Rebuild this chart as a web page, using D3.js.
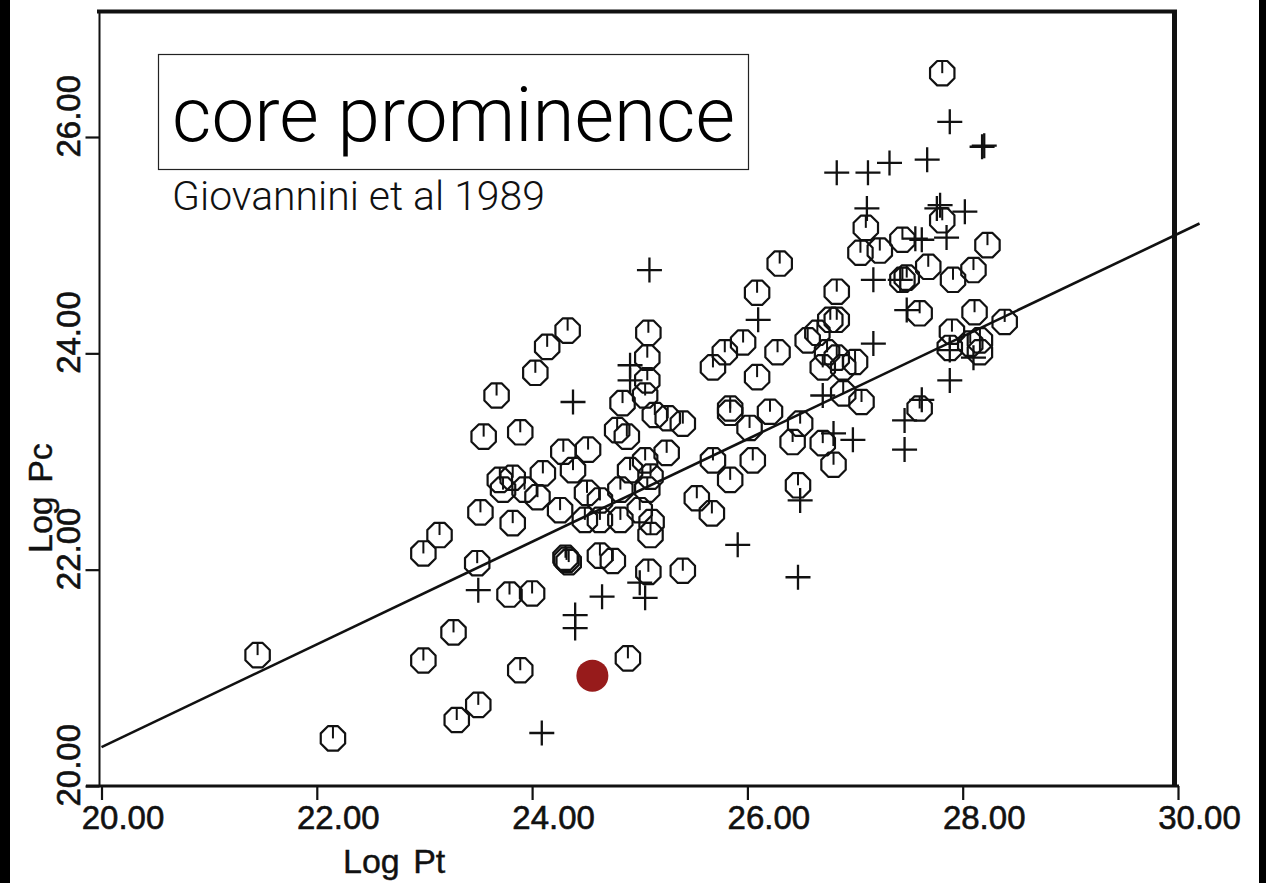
<!DOCTYPE html>
<html>
<head>
<meta charset="utf-8">
<script src="https://cdn.jsdelivr.net/npm/d3@7"></script>
<style>
  html, body { margin: 0; padding: 0; background: #fff; }
  svg { display: block; }
</style>
</head>
<body>
<svg id="chart" width="1266" height="883"></svg>
<script>
// Core power (Log Pc) against total power (Log Pt) for a radio galaxy sample.

// Sources drawn with the octagon "circle" symbol
const circlePt = [21.45, 22.15, 22.99, 23.27, 23.30, 23.50, 23.89, 24.89, 22.99, 23.14,
  23.49, 23.52, 23.79, 24.00, 24.32, 24.34, 24.31, 24.63, 24.75, 25.08,
  25.40, 25.10, 23.67, 24.03, 24.14, 24.33, 23.55, 23.89, 25.08, 25.07,
  25.07, 24.84, 25.05, 24.79, 24.88, 25.14, 25.26, 25.40, 25.25, 25.10,
  25.07, 24.29, 24.52, 23.70, 23.82, 23.73, 23.93, 24.10, 24.05, 23.82,
  24.38, 24.26, 24.51, 24.63, 24.49, 24.63, 24.82, 24.91, 25.05, 24.82,
  25.00, 25.11, 25.53, 25.67, 26.30, 26.09, 25.96, 25.79, 25.68, 26.28,
  26.09, 25.84, 25.84, 26.21, 26.02, 25.68, 26.05, 25.84, 26.47, 26.49,
  26.42, 26.70, 26.80, 26.83, 26.56, 26.65, 26.77, 26.83, 26.74, 26.83,
  26.70, 26.89, 27.00, 26.89, 27.06, 27.81, 27.10, 27.05, 27.23, 27.44,
  27.81, 28.23, 27.68, 27.91, 28.10, 27.44, 27.48, 27.60, 28.11, 28.39,
  27.90, 27.88, 28.07, 28.16, 28.16, 27.60];
const circlePc = [21.21, 20.44, 21.16, 21.42, 20.61, 20.75, 21.07, 21.18, 22.15, 22.32,
  22.06, 22.53, 21.77, 21.78, 22.09, 22.07, 22.11, 22.13, 22.08, 21.98,
  21.99, 22.32, 23.61, 23.82, 24.06, 24.21, 23.23, 23.27, 24.19, 23.96,
  23.75, 23.54, 23.61, 23.29, 23.23, 23.43, 23.40, 23.35, 23.08, 22.86,
  22.74, 23.09, 23.11, 22.83, 22.85, 22.74, 22.74, 22.89, 22.67, 22.43,
  22.92, 22.55, 22.71, 22.64, 22.46, 22.46, 22.74, 22.92, 23.01, 22.46,
  22.55, 22.44, 22.66, 22.52, 24.83, 24.56, 24.10, 24.01, 23.87, 24.01,
  23.78, 23.49, 23.45, 23.46, 23.31, 23.01, 23.01, 22.83, 22.78, 23.35,
  23.18, 23.17, 22.97, 24.57, 24.12, 24.19, 24.31, 24.31, 24.01, 23.96,
  23.87, 23.87, 23.92, 23.63, 23.55, 26.59, 25.16, 24.93, 24.95, 25.05,
  25.23, 25.00, 24.80, 24.68, 24.77, 24.68, 24.70, 24.37, 24.38, 24.29,
  24.20, 24.05, 24.09, 24.01, 24.12, 23.49];

// Sources drawn with the plus symbol
const plusPt = [23.50, 24.38, 25.09, 24.91, 24.91, 24.65, 24.40, 24.40, 25.00, 25.05,
  24.09, 25.91, 26.47, 26.49, 26.70, 26.10, 26.98, 26.80, 27.46, 27.46,
  27.88, 27.62, 27.88, 28.10, 27.17, 27.48, 27.42, 27.17, 27.62, 27.85,
  27.79, 28.02, 27.11, 26.83, 27.12, 27.32, 27.67, 27.88, 28.18, 28.20,
  27.56, 27.76];
const plusPc = [21.81, 23.55, 24.77, 23.89, 23.75, 21.75, 21.58, 21.46, 21.88, 21.74,
  20.49, 22.23, 21.93, 22.64, 23.61, 24.31, 23.20, 23.26, 23.38, 23.11,
  23.75, 23.57, 24.03, 23.96, 24.09, 24.40, 24.68, 24.68, 25.05, 25.07,
  25.37, 25.31, 25.34, 25.67, 25.67, 25.76, 25.79, 26.14, 25.91, 25.92,
  25.06, 25.34];

// Highlighted source
const highlightPt = [24.56];
const highlightPc = [21.02];

// Regression line end points
const fitPt = [20.0, 30.2];
const fitPc = [20.36, 25.20];

// Axis ticks
const xTicks = [20, 22, 24, 26, 28, 30];
const yTicks = [20, 22, 24, 26];

const titleText = "core prominence";
const subtitleText = "Giovannini et al 1989";
const xLabel = "Log Pt";
const yLabel = "Log Pc";

const svg = d3.select("#chart");
const ink = "#111";

// Dark bars at the page edges
svg.append("rect").attr("x", 0).attr("y", 0).attr("width", 10).attr("height", 883).attr("fill", "#000");
svg.append("rect").attr("x", 1259).attr("y", 0).attr("width", 7).attr("height", 883).attr("fill", "#000");

const x = d3.scaleLinear().domain([20, 30]).range([101.5, 1178]);
const y = d3.scaleLinear().domain([20, 26]).range([786, 137]);

// Frame: top and right borders
svg.append("line").attr("x1", 97).attr("x2", 1177).attr("y1", 11.5).attr("y2", 11.5)
  .attr("stroke", ink).attr("stroke-width", 4);
svg.append("line").attr("x1", 1174.5).attr("x2", 1174.5).attr("y1", 10).attr("y2", y(20))
  .attr("stroke", ink).attr("stroke-width", 5);

// Axis lines
svg.append("line").attr("x1", 99.5).attr("x2", 99.5).attr("y1", 10).attr("y2", y(20))
  .attr("stroke", ink).attr("stroke-width", 2);
svg.append("line").attr("x1", 86).attr("x2", x(30) + 1).attr("y1", y(20)).attr("y2", y(20))
  .attr("stroke", ink).attr("stroke-width", 3);

// X axis ticks and labels
const gx = svg.append("g").attr("transform", `translate(0,${y(20)})`)
  .call(d3.axisBottom(x).tickValues(xTicks).tickFormat(d3.format(".2f"))
    .tickSizeInner(14).tickSizeOuter(0));
gx.select(".domain").remove();
gx.selectAll(".tick line").attr("stroke", ink).attr("stroke-width", 2.2);
gx.selectAll(".tick text")
  .attr("x", 21).attr("y", 43).attr("dy", null)
  .attr("text-anchor", "middle")
  .attr("font-family", "'Liberation Sans', Arial, sans-serif")
  .attr("font-size", 33).attr("fill", ink)
  .attr("stroke", ink).attr("stroke-width", 0.6);

// Y axis ticks and labels
const gy = svg.append("g").attr("transform", "translate(99.5,0)")
  .call(d3.axisLeft(y).tickValues(yTicks).tickFormat(d3.format(".2f"))
    .tickSizeInner(14).tickSizeOuter(0));
gy.select(".domain").remove();
gy.selectAll(".tick line").attr("stroke", ink).attr("stroke-width", 2.2);
gy.selectAll(".tick text")
  .attr("x", null).attr("dy", null)
  .attr("text-anchor", "start")
  .attr("transform", "translate(-20,20) rotate(-90)")
  .attr("font-family", "'Liberation Sans', Arial, sans-serif")
  .attr("font-size", 33).attr("fill", ink)
  .attr("stroke", ink).attr("stroke-width", 0.6);

// Axis titles
svg.append("text").attr("x", 343).attr("y", 873)
  .attr("font-family", "'Liberation Sans', Arial, sans-serif").attr("font-size", 34)
  .attr("fill", ink).attr("stroke", ink).attr("stroke-width", 0.4)
  .attr("word-spacing", 4)
  .text(xLabel);
svg.append("text").attr("transform", "translate(52,553) rotate(-90)")
  .attr("font-family", "'Liberation Sans', Arial, sans-serif").attr("font-size", 34)
  .attr("fill", ink).attr("stroke", ink).attr("stroke-width", 0.4)
  .attr("word-spacing", 4)
  .text(yLabel);

// Regression line
svg.append("path")
  .datum(d3.zip(fitPt, fitPc))
  .attr("d", d3.line().x(d => x(d[0])).y(d => y(d[1])))
  .attr("fill", "none").attr("stroke", ink).attr("stroke-width", 2.6);

// Octagon outline with a short tick from its top edge to the centre
const R = 13.2;
const octagon = "M" + d3.range(8).map(i => {
  const a = Math.PI / 8 + i * Math.PI / 4;
  return [R * Math.cos(a), R * Math.sin(a)];
}).join("L") + "Z";
const flat = R * Math.cos(Math.PI / 8);

const circles = svg.append("g").attr("class", "circles");
const cg = circles.selectAll("g").data(d3.zip(circlePt, circlePc)).join("g")
  .attr("transform", d => `translate(${x(d[0])},${y(d[1])})`);
cg.append("path").attr("d", octagon).attr("fill", "none")
  .attr("stroke", ink).attr("stroke-width", 2.2).attr("stroke-linejoin", "round");
cg.append("line").attr("x1", 0).attr("x2", 0).attr("y1", -flat).attr("y2", 0)
  .attr("stroke", ink).attr("stroke-width", 2);

// Plus symbols
const P = 12.5;
svg.append("g").attr("class", "plus")
  .selectAll("path").data(d3.zip(plusPt, plusPc)).join("path")
  .attr("transform", d => `translate(${x(d[0])},${y(d[1])})`)
  .attr("d", `M${-P},0H${P}M0,${-P}V${P}`)
  .attr("fill", "none").attr("stroke", ink).attr("stroke-width", 2.3);

// Highlighted source
svg.append("g").selectAll("circle").data(d3.zip(highlightPt, highlightPc)).join("circle")
  .attr("cx", d => x(d[0])).attr("cy", d => y(d[1])).attr("r", 16)
  .attr("fill", "#971b1b");

// Title box
svg.append("rect").attr("x", 158.5).attr("y", 54.5).attr("width", 590).attr("height", 115)
  .attr("fill", "#fff").attr("stroke", "#222").attr("stroke-width", 1.2);

function fitWidth(sel, target) {
  const w = sel.node().getComputedTextLength();
  const fs = parseFloat(sel.attr("font-size"));
  if (w > 0) sel.attr("font-size", fs * target / w);
}

const title = svg.append("text").attr("x", 172).attr("y", 141)
  .attr("font-family", "Roboto, 'Liberation Sans', sans-serif").attr("font-weight", 300)
  .attr("font-size", 76).attr("fill", "#000").text(titleText);
fitWidth(title, 563);

const subtitle = svg.append("text").attr("x", 172).attr("y", 210)
  .attr("font-family", "Roboto, 'Liberation Sans', sans-serif").attr("font-weight", 300)
  .attr("font-size", 38).attr("fill", "#111").text(subtitleText);
fitWidth(subtitle, 373);
</script>
</body>
</html>
